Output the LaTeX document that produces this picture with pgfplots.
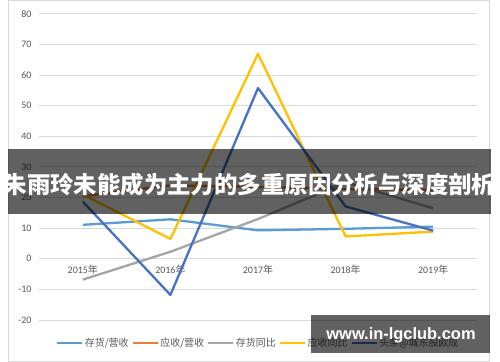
\documentclass[border=0pt]{standalone}
\usepackage{fontspec}
\usepackage{pgfplots}
\pgfplotsset{compat=1.18}
\setmainfont{Carlito}
\newfontfamily\cjk{Noto Sans CJK SC}
\newfontfamily\wm{Liberation Sans}
\definecolor{c1}{HTML}{5B9BD5}
\definecolor{c2}{HTML}{ED7D31}
\definecolor{c3}{HTML}{A5A5A5}
\definecolor{c4}{HTML}{FFC000}
\definecolor{c5}{HTML}{4472C4}
\definecolor{gridc}{HTML}{D9D9D9}
\definecolor{txt}{HTML}{595959}
\begin{document}
\begin{tikzpicture}
\path[use as bounding box] (0,0) rectangle (500bp,362bp);
\fill[white] (0,0) rectangle (500bp,362bp);
\draw[gridc, line width=0.8bp] (8.5bp,0.5bp) rectangle (489.5bp,361.5bp);
\begin{axis}[
  at={(39bp,42bp)}, anchor=south west,
  width=438bp, height=306bp, scale only axis,
  xmin=-0.5, xmax=4.5, ymin=-20, ymax=80,
  axis x line=middle, axis y line=left,
  axis line style={draw=none,-},
  xtick={0,1,2,3,4},
  xticklabels={2015{\cjk 年},2016{\cjk 年},2017{\cjk 年},2018{\cjk 年},2019{\cjk 年}},
  ytick={-20,-10,0,10,20,30,40,50,60,70,80},
  major tick length=0pt,
  ymajorgrids, grid style={gridc, line width=1bp},
  /pgf/number format/assume math mode=true,
  tick label style={font=\fontsize{10}{12}\selectfont, text=txt},
  yticklabel style={xshift=-4bp},
  xticklabel style={yshift=-3bp},
  legend columns=5,
  legend style={at={(0.5,-0.075)}, anchor=center, draw=none, fill=none,
    font=\cjk\fontsize{10}{12}\selectfont, text=txt,
    /tikz/every even column/.append style={column sep=1.5bp},
    nodes={inner xsep=1.5bp}},
  legend image code/.code={\draw[#1] (0bp,0bp) -- (25bp,0bp);},
  every axis plot/.append style={line width=2.3bp, line join=round, mark=none},
]
\addplot[c1] coordinates {(0,11.1) (1,12.9) (2,9.3) (3,9.8) (4,10.5)};
\addlegendentry{存货/营收}
\addplot[c2] coordinates {(0,20.4) (1,24.0) (2,23.5) (3,22.8) (4,22.5)};
\addlegendentry{应收/营收}
\addplot[c3] coordinates {(0,-6.8) (1,2.3) (2,13.0) (3,25.0) (4,16.5)};
\addlegendentry{存货同比}
\addplot[c4] coordinates {(0,21.0) (1,6.5) (2,67.0) (3,7.3) (4,8.9)};
\addlegendentry{应收同比}
\addplot[c5] coordinates {(0,18.7) (1,-11.8) (2,55.8) (3,17.1) (4,9.2)};
\addlegendentry{头条@城东股欧成}
\end{axis}
\fill[black, fill opacity=0.62] (8bp,148bp) rectangle (491bp,213bp);
\node[text=white, font=\cjk\bfseries\fontsize{23.5}{26}\selectfont, inner sep=0] at (249.5bp,177bp) {朱雨玲未能成为主力的多重原因分析与深度剖析};
\fill[black, fill opacity=0.62] (311bp,9bp) rectangle (490bp,47bp);
\node[text=white, font=\wm\bfseries\fontsize{16.5}{19}\selectfont, inner sep=0] at (401bp,27bp) {www.in-lgclub.com};
\end{tikzpicture}
\end{document}
